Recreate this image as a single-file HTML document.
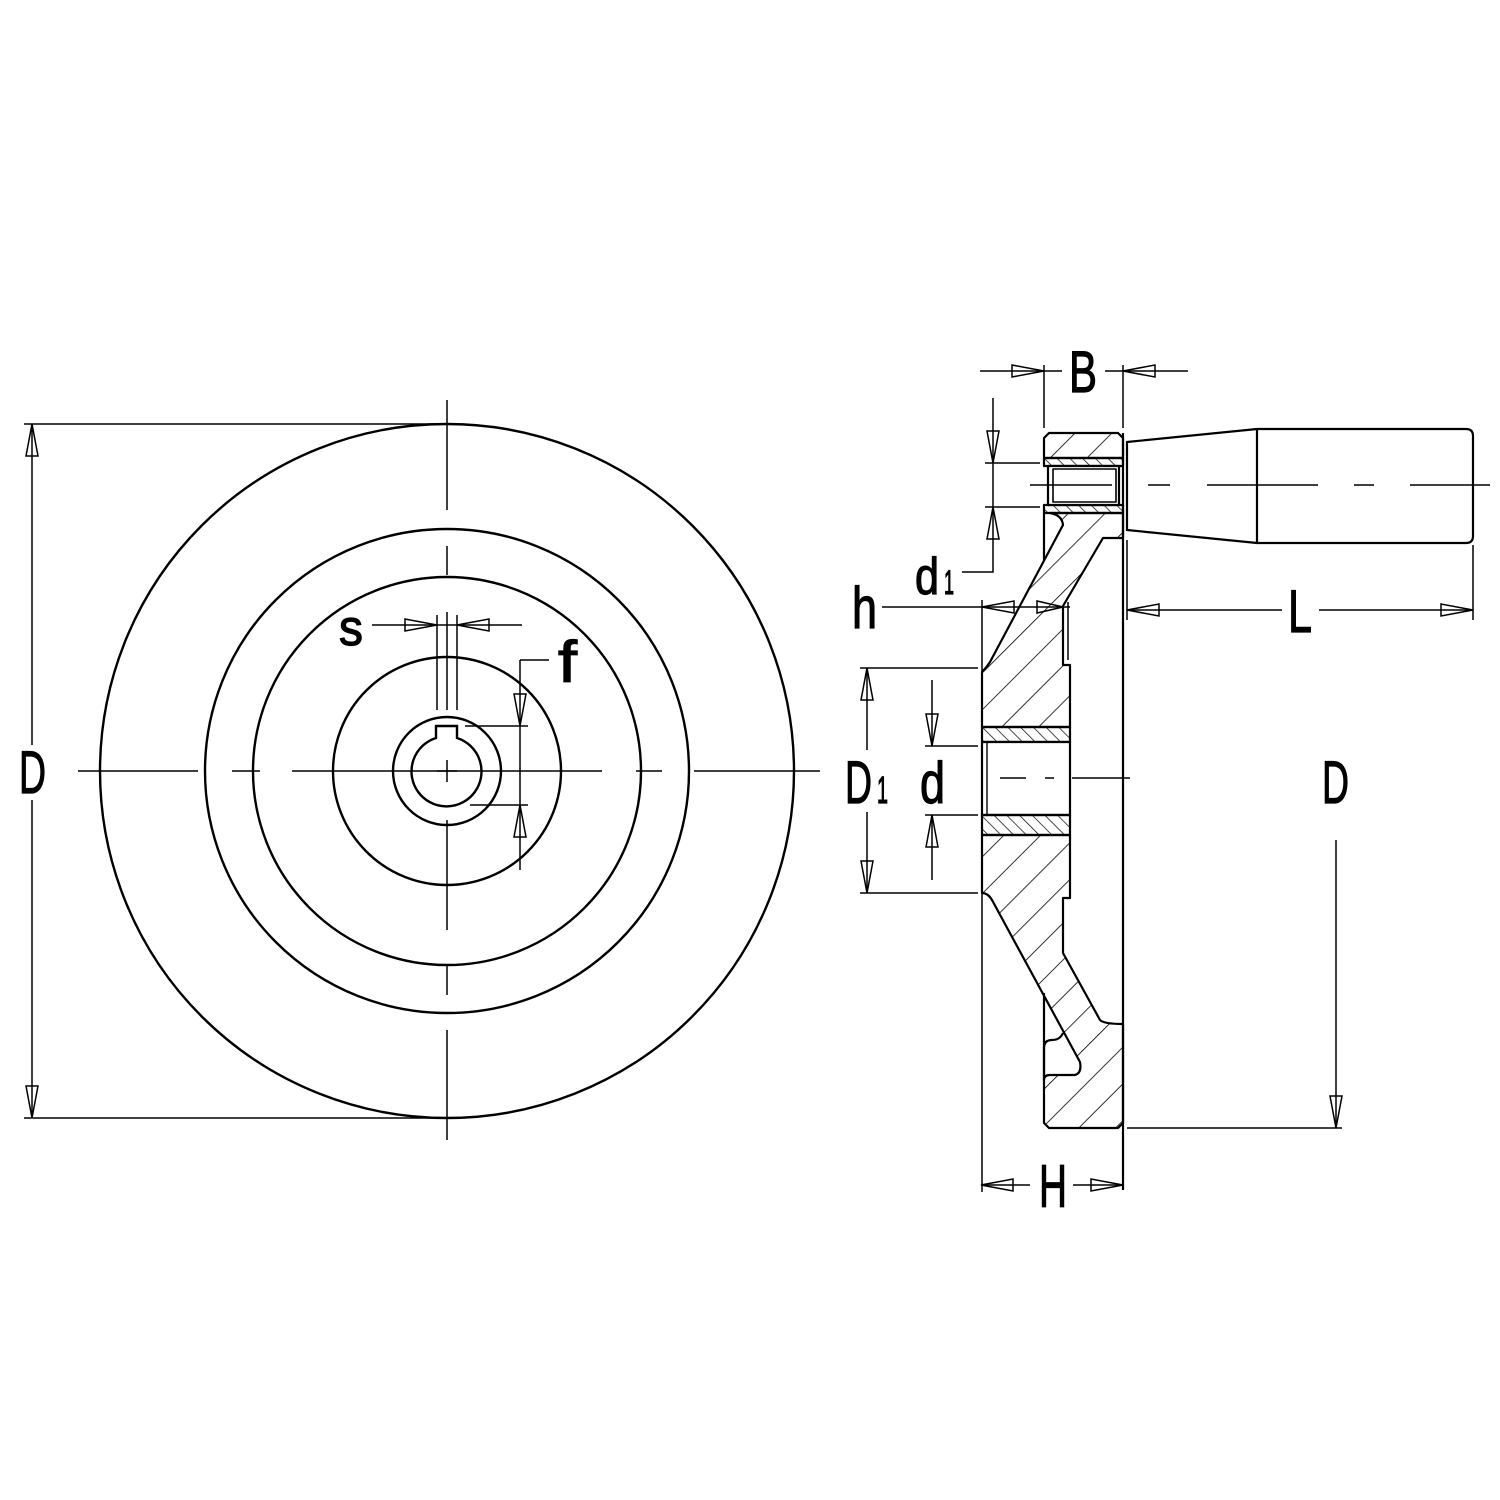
<!DOCTYPE html>
<html><head><meta charset="utf-8"><style>
html,body{margin:0;padding:0;background:#fff}
svg{display:block}
text{font-family:"Liberation Sans",sans-serif;fill:#000;stroke:#000;stroke-width:1.2}
</style></head><body>
<svg width="1500" height="1500" viewBox="0 0 1500 1500" xmlns="http://www.w3.org/2000/svg">
<defs>
<pattern id="h1" patternUnits="userSpaceOnUse" width="26" height="26" patternTransform="rotate(45)">
<line x1="0" y1="0" x2="0" y2="26" stroke="#000" stroke-width="1.6"/></pattern>
<pattern id="h2" patternUnits="userSpaceOnUse" width="9" height="9" patternTransform="rotate(-45)">
<line x1="0" y1="0" x2="0" y2="9" stroke="#000" stroke-width="1.4"/></pattern>
</defs>
<rect width="1500" height="1500" fill="#fff"/>

<!-- FRONT VIEW -->
<g fill="none" stroke="#000" stroke-width="2.4">
<circle cx="447" cy="771" r="347"/>
<circle cx="447" cy="771" r="242"/>
<circle cx="447" cy="771" r="194"/>
<circle cx="447" cy="771" r="114"/>
<circle cx="447" cy="771" r="54"/>
<path d="M436,726 L436,738 A35,35 0 1 0 457,738 L457,726 Z"/>
</g>
<g stroke="#000" stroke-width="1.5" fill="none">
<path d="M78,771H198 M232,771H260 M292,771H602 M636,771H662 M694,771H820"/>
<path d="M447,400V510 M447,546V575 M447,612V710 M447,760V782 M447,820V930 M447,965V995 M447,1030V1140"/>
<path d="M437,771H457"/>
<path d="M437,615V710 M457,615V710 M372,625H522"/>
<polygon points="437,625 405,619 405,631"/><polygon points="457,625 489,619 489,631"/>
<path d="M520,660H549 M520,660V870 M465,726H528 M470,805H528"/>
<polygon points="520,726 514,694 526,694"/><polygon points="520,805 514,837 526,837"/>
<path d="M24,424H447 M24,1118H447 M32,424V745 M32,800V1118"/>
<polygon points="32,424 26,456 38,456"/><polygon points="32,1118 26,1086 38,1086"/>
</g>
<text x="339" y="645" font-size="50" textLength="24" lengthAdjust="spacingAndGlyphs">s</text>
<text x="558" y="682" font-size="58" textLength="19" lengthAdjust="spacingAndGlyphs">f</text>
<text x="19" y="793" font-size="60" textLength="27" lengthAdjust="spacingAndGlyphs">D</text>

<!-- SIDE VIEW -->
<g stroke="#000" stroke-width="2.2" stroke-linejoin="round">
<path d="M1049,433H1118L1123,438V458H1044V438Z" fill="url(#h1)"/>
<path d="M1044,458H1123V466H1044Z" fill="url(#h2)"/>
<path d="M1044,505H1123V513H1044Z" fill="url(#h2)"/>
<rect x="1048" y="466" width="71" height="39" fill="#fff"/>
<rect x="1053" y="469" width="63" height="33" fill="none" stroke-width="1.6"/>
<path d="M1050,513 Q1062,515 1063,525 L990,662 Q986,668 982,672 V727 H1070 V665 H1063 V606 L1103,538 H1123 V513 Z" fill="url(#h1)"/>
<path d="M1044,513 V560" fill="none"/>
<path d="M982,727H1070V742H982Z" fill="url(#h2)"/>
<rect x="982" y="742" width="88" height="73" fill="#fff"/>
<path d="M987,742V815" fill="none" stroke-width="1.4"/>
<path d="M982,815H1070V835H982Z" fill="url(#h2)"/>
<path d="M982,835 H1070 V898 H1063 V953 L1100,1020 Q1104,1024 1123,1024 V1123 L1118,1128 H1049 L1044,1123 V1080 Q1044,1075 1050,1075 H1075 Q1082,1073 1080,1062 L992,900 Q988,893 982,893 Z" fill="url(#h1)"/>
<path d="M1044,1080 V1048 Q1044,1040 1052,1040 Q1060,1040 1063,1033" fill="none"/>
<path d="M1044,993 V1080" fill="none"/>
</g>
<g fill="none" stroke="#000" stroke-width="2.2">
<path d="M1123,433V1190"/>
<path d="M1127,442 L1257,429 H1466 Q1473,429 1473,436 V536 Q1473,543 1466,543 H1257 L1127,530 Z"/>
<path d="M1257,429V543"/>
</g>
<g stroke="#000" stroke-width="1.5" fill="none">
<path d="M1148,485H1170 M1207,485H1318 M1354,485H1374 M1410,485H1490"/>
<path d="M1030,485H1112"/>
<path d="M1000,778H1026 M1045,778H1054 M1072,778H1130"/>
<path d="M1044,365V428 M1123,365V428 M980,371H1062 M1105,371H1188"/>
<polygon points="1044,371 1012,365 1012,377"/><polygon points="1123,371 1155,365 1155,377"/>
<path d="M993,398V572 H962 M985,463H1040 M985,507H1040"/>
<polygon points="993,463 987,431 999,431"/><polygon points="993,507 987,539 999,539"/>
<path d="M882,607H1070 M982,600V1192 M1068,602V660"/>
<polygon points="982,607 1014,601 1014,613"/><polygon points="1063,607 1037,601 1037,613"/>
<path d="M1127,540V620 M1473,545V620 M1127,610H1282 M1319,610H1473"/>
<polygon points="1127,610 1159,604 1159,616"/><polygon points="1473,610 1441,604 1441,616"/>
<path d="M860,668H978 M860,893H978 M867,668V750 M867,812V893"/>
<polygon points="867,668 861,700 873,700"/><polygon points="867,893 861,861 873,861"/>
<path d="M925,746H978 M925,815H978 M932,680V746 M932,815V880"/>
<polygon points="932,746 926,714 938,714"/><polygon points="932,815 926,847 938,847"/>
<path d="M1127,1128H1342 M1336,840V1128"/>
<polygon points="1336,1128 1330,1096 1342,1096"/>
<path d="M981,1185H1030 M1073,1185H1123"/>
<polygon points="981,1185 1013,1179 1013,1191"/><polygon points="1123,1185 1091,1179 1091,1191"/>
</g>
<text x="1069" y="392" font-size="58" textLength="28" lengthAdjust="spacingAndGlyphs">B</text>
<text x="915" y="594" font-size="52" textLength="24" lengthAdjust="spacingAndGlyphs">d</text>
<text x="944" y="594" font-size="34" textLength="10" lengthAdjust="spacingAndGlyphs">1</text>
<text x="852" y="628" font-size="58" textLength="25" lengthAdjust="spacingAndGlyphs">h</text>
<text x="1288" y="632" font-size="60" textLength="24" lengthAdjust="spacingAndGlyphs">L</text>
<text x="845" y="803" font-size="60" textLength="27" lengthAdjust="spacingAndGlyphs">D</text>
<text x="877" y="803" font-size="38" textLength="11" lengthAdjust="spacingAndGlyphs">1</text>
<text x="920" y="803" font-size="58" textLength="25" lengthAdjust="spacingAndGlyphs">d</text>
<text x="1322" y="803" font-size="60" textLength="27" lengthAdjust="spacingAndGlyphs">D</text>
<text x="1039" y="1207" font-size="60" textLength="28" lengthAdjust="spacingAndGlyphs">H</text>
</svg>
</body></html>
